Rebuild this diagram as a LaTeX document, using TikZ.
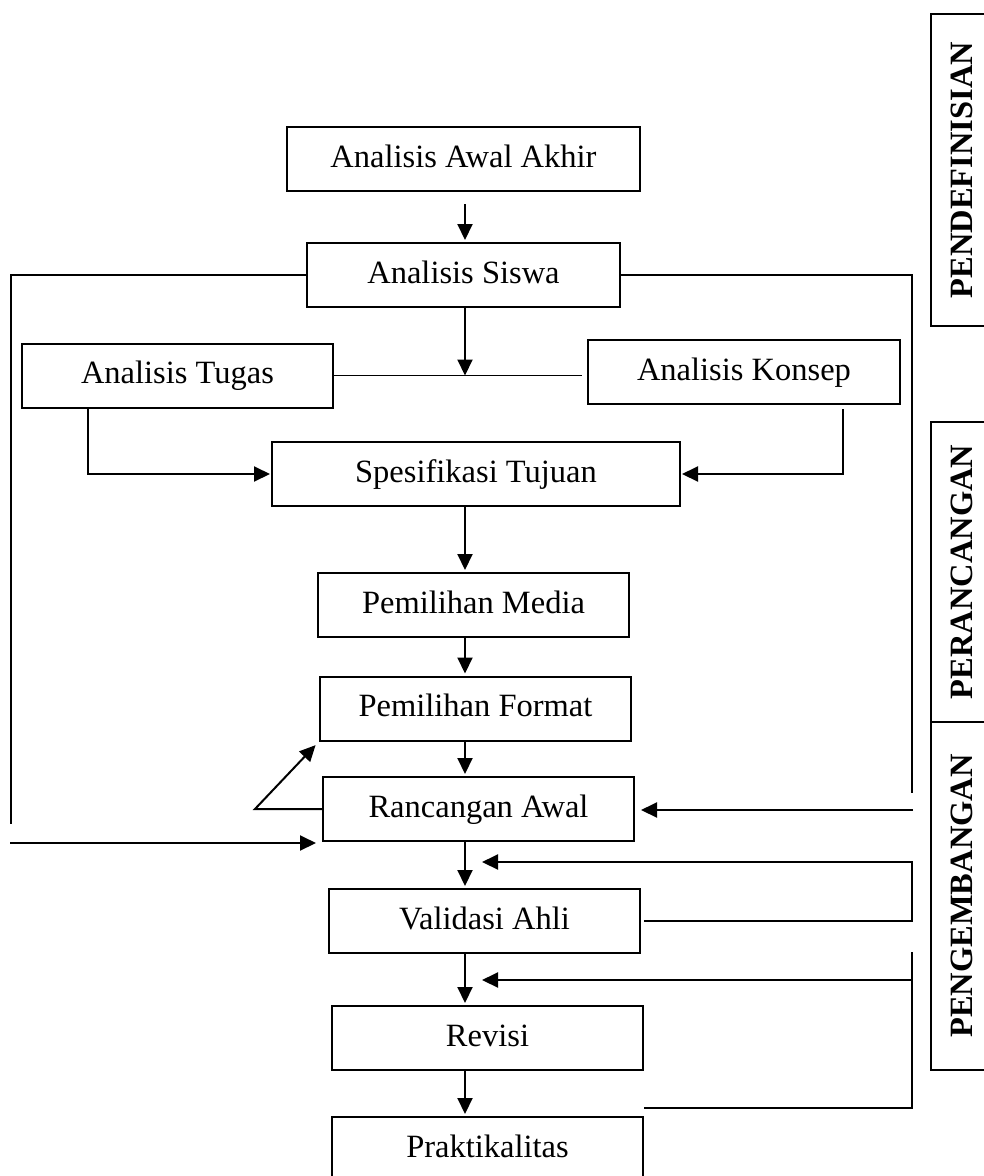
\documentclass[tikz,border=0pt]{standalone}
\usepackage{fontspec}
\setmainfont{Liberation Serif}
\usetikzlibrary{arrows.meta}

\begin{document}
\begin{tikzpicture}[x=1pt, y=-1pt, line width=2pt,
  every node/.append style={text height=22pt, text depth=6pt, font=\fontsize{32.5}{38}\selectfont},
  box/.style={draw, line width=2pt, minimum width=#1, minimum height=64pt, inner sep=0pt},
  phase/.style={draw, line width=2pt, rotate=90, minimum width=#1, minimum height=66pt, inner sep=0pt, font=\bfseries\fontsize{32.5}{38}\selectfont},
  flow/.style={-{Triangle[length=16pt,width=15pt]}, shorten >=2pt}]
  \useasboundingbox (0,0) rectangle (984,1176);

  \node[box=353pt] (awal)      at (463.5,159)  {Analisis Awal Akhir};
  \node[box=313pt] (siswa)     at (463.5,275)  {Analisis Siswa};
  \node[box=311pt] (tugas)     at (177.5,375.5) {Analisis Tugas};
  \node[box=312pt] (konsep)    at (744,372)    {Analisis Konsep};
  \node[box=408pt] (tujuan)    at (476,474)    {Spesifikasi Tujuan};
  \node[box=311pt] (media)     at (473.5,605)  {Pemilihan Media};
  \node[box=311pt] (format)    at (475.5,708.5) {Pemilihan Format};
  \node[box=311pt] (rancangan) at (478.5,809)  {Rancangan Awal};
  \node[box=311pt] (validasi)  at (484.5,921)  {Validasi Ahli};
  \node[box=311pt] (revisi)    at (487.5,1038) {Revisi};
  \node[box=311pt] (praktis)   at (487.5,1149) {Praktikalitas};

  \node[phase=312pt] (definisi) at (964,170) {PENDEFINISIAN};
  \node[phase=300pt] (rancang)  at (964,572) {PERANCANGAN};
  \node[phase=348pt] (kembang)  at (964,896) {PENGEMBANGAN};

  \coordinate (axis)   at (465,0);
  \coordinate (kink)   at (255,809);
  \coordinate (inleft) at (10,843);
  \coordinate (inright) at (913,810);
  \coordinate (backA)  at (480,862);
  \coordinate (backB)  at (480,980);
  \coordinate (valtop) at (912,862);
  \coordinate (revtop) at (912,952);

  % alur utama
  \draw[flow, shorten <=12pt] (awal.south -| axis) -- (siswa.north -| axis);
  \draw[line width=1.4pt] (tugas.east) -- ([xshift=-5pt]konsep.west |- tugas.east);
  \draw[flow, shorten >=0pt] (siswa.south -| axis) -- (axis |- tugas.east);
  \draw[flow, shorten >=1pt] ([xshift=67pt]tugas.south west) |- (tujuan.west);
  \draw[flow, shorten >=1pt] ([xshift=-58pt, yshift=-4pt]konsep.south east) |- (tujuan.east);
  \draw[flow] (tujuan.south -| axis) -- (media.north -| axis);
  \draw[flow] (media.south -| axis) -- (format.north -| axis);
  \draw[flow] (format.south -| axis) -- (rancangan.north -| axis);
  \draw[flow] (rancangan.south -| axis) -- (validasi.north -| axis);
  \draw[flow] (validasi.south -| axis) -- (revisi.north -| axis);
  \draw[flow] (revisi.south -| axis) -- (praktis.north -| axis);

  % umpan balik
  \draw (siswa.west) -| (11,824);
  \draw[flow, shorten >=6pt] (inleft) -- (inleft -| rancangan.west);
  \draw (siswa.east) -| (912,793);
  \draw[flow, shorten >=6pt] (inright) -- (inright -| rancangan.east);
  \draw[flow, shorten >=5pt] (rancangan.west) -- (kink) -- (format.south west);
  \draw[flow] ([xshift=3pt]validasi.east) -| (valtop) -- (backA);
  \draw ([yshift=8pt]praktis.north east) -| (revtop);
  \draw[flow] (revtop |- backB) -- (backB);
\end{tikzpicture}
\end{document}
